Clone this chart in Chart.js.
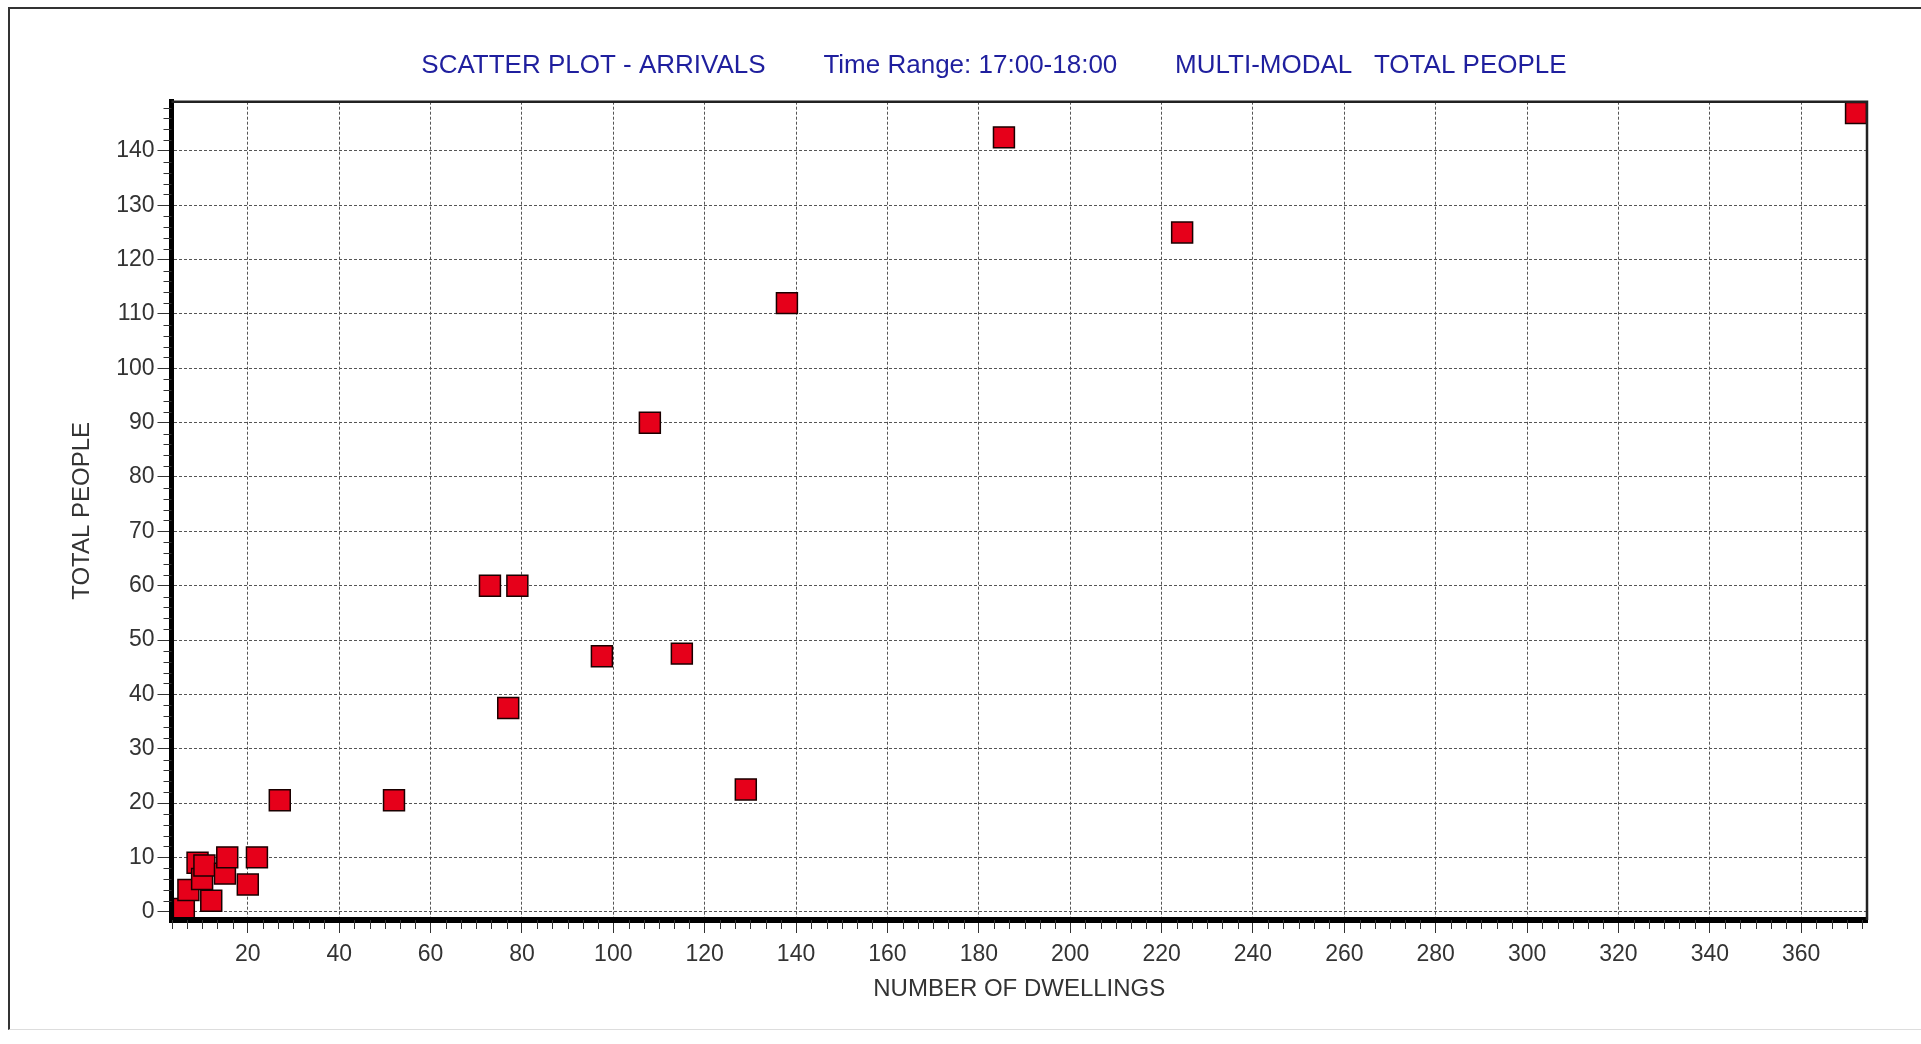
<!DOCTYPE html>
<html>
<head>
<meta charset="utf-8">
<title>Scatter plot - arrivals</title>
<script src="https://cdn.jsdelivr.net/npm/chart.js@4/dist/chart.umd.min.js"></script>
<style>
    html, body { margin: 0; padding: 0; background: #fff; }
    #wrap { position: relative; width: 1921px; height: 1044px; }
    #frame {
        position: absolute; left: 8px; top: 7px; right: -4px; bottom: 14px;
        border-top: 2px solid #333; border-left: 2px solid #333; border-bottom: 1px solid #ddd;
        pointer-events: none;
    }
</style>
</head>
<body>
<div id="wrap">
    <canvas id="scatterArrivals"></canvas>
    <div id="frame"></div>
</div>
<script>
// данные с графика
const dwellings = [6, 7, 9, 10, 10.5, 12, 15, 15.5, 20, 22, 27, 52, 73, 77, 79, 97.5, 108, 115, 129, 138, 185.5, 224.5, 372];
const totalPeople = [0.5, 4, 9, 6, 8.5, 2, 7, 10, 5, 10, 20.5, 20.5, 60, 37.5, 60, 47, 90, 47.5, 22.5, 112, 142.5, 125, 147];
const xTicks = [20, 40, 60, 80, 100, 120, 140, 160, 180, 200, 220, 240, 260, 280, 300, 320, 340, 360];
const yTicks = [0, 10, 20, 30, 40, 50, 60, 70, 80, 90, 100, 110, 120, 130, 140];

// пробелы в конце сдвигают заголовок немного влево, как на оригинале
const chartTitle = 'SCATTER PLOT - ARRIVALS        Time Range: 17:00-18:00        MULTI-MODAL   TOTAL PEOPLE       ';

const fontName = '"Liberation Sans", Arial, sans-serif';

// мелкие засечки и тонкая рамка сверху и справа
const minorTicks = {
    id: 'minorTicks',
    afterDraw(chart) {
        const ctx = chart.ctx;
        const area = chart.chartArea;
        const x = chart.scales.x;
        const y = chart.scales.y;
        ctx.save();
        ctx.strokeStyle = '#333';
        ctx.lineWidth = 1;
        ctx.beginPath();
        for (let v = 0; v <= y.max; v += 2) {
            if (v % 10 === 0 || v < y.min) continue;
            const py = Math.round(y.getPixelForValue(v)) + 0.5;
            ctx.moveTo(area.left - 8, py);
            ctx.lineTo(area.left, py);
        }
        for (let i = 0; ; i++) {
            const v = i * 20 / 6;
            if (v > x.max) break;
            if (i % 6 === 0 || v < x.min) continue;
            const px = Math.round(x.getPixelForValue(v)) + 0.5;
            ctx.moveTo(px, area.bottom);
            ctx.lineTo(px, area.bottom + 9);
        }
        ctx.stroke();

        ctx.strokeStyle = '#222';
        ctx.lineWidth = 2.5;
        ctx.beginPath();
        ctx.moveTo(area.left, area.top);
        ctx.lineTo(area.right, area.top);
        ctx.lineTo(area.right, area.bottom);
        ctx.stroke();
        ctx.restore();
    }
};

const scatterChart = new Chart(document.getElementById('scatterArrivals'), {
    type: 'scatter',
    data: {
        datasets: [{
            label: 'TOTAL PEOPLE',
            data: dwellings.map((d, i) => ({x: d, y: totalPeople[i]})),
            pointStyle: 'rect',
            pointRadius: 14.8,
            pointHoverRadius: 14.8,
            backgroundColor: '#e6001a',
            borderColor: '#1a0000',
            borderWidth: 1.5,
            clip: false
        }]
    },
    options: {
        responsive: true,
        maintainAspectRatio: false,
        animation: false,
        devicePixelRatio: 1,
        layout: {
            padding: {left: 0, right: 54, top: 0, bottom: 0}
        },
        plugins: {
            legend: {display: false},
            tooltip: {enabled: false},
            title: {
                display: true,
                fullSize: false,
                text: chartTitle,
                color: '#1f1f9e',
                font: {family: fontName, size: 26, weight: 'normal'},
                padding: {top: 50.4, bottom: 20.1}
            }
        },
        scales: {
            x: {
                type: 'linear',
                min: 3.3,
                max: 374.4,
                afterBuildTicks: (scale) => { scale.ticks = xTicks.map(v => ({value: v})); },
                afterFit: (scale) => { scale.height = 124; },
                ticks: {
                    color: '#333',
                    font: {family: fontName, size: 23},
                    padding: 8,
                    maxRotation: 0,
                    autoSkip: false
                },
                grid: {
                    color: '#555',
                    lineWidth: 1,
                    tickLength: 13,
                    tickColor: '#333',
                    tickWidth: 1
                },
                border: {display: true, color: '#000', width: 6, dash: [3, 2], z: 1},
                title: {
                    display: true,
                    text: 'NUMBER OF DWELLINGS',
                    color: '#333',
                    font: {family: fontName, size: 24},
                    padding: {top: 0, bottom: 40.6}
                }
            },
            y: {
                type: 'linear',
                min: -1.53,
                max: 149.07,
                afterBuildTicks: (scale) => { scale.ticks = yTicks.map(v => ({value: v})); },
                afterFit: (scale) => { scale.width = 171.5; },
                ticks: {
                    color: '#333',
                    font: {family: fontName, size: 23},
                    padding: 3,
                    autoSkip: false
                },
                grid: {
                    color: '#555',
                    lineWidth: 1,
                    tickLength: 14,
                    tickColor: '#333',
                    tickWidth: 1
                },
                border: {display: true, color: '#000', width: 5, dash: [3, 2], z: 1},
                title: {
                    display: true,
                    text: 'TOTAL PEOPLE',
                    color: '#333',
                    font: {family: fontName, size: 24},
                    padding: {top: 67.6, bottom: 0}
                }
            }
        }
    },
    plugins: [minorTicks]
});
</script>
</body>
</html>
